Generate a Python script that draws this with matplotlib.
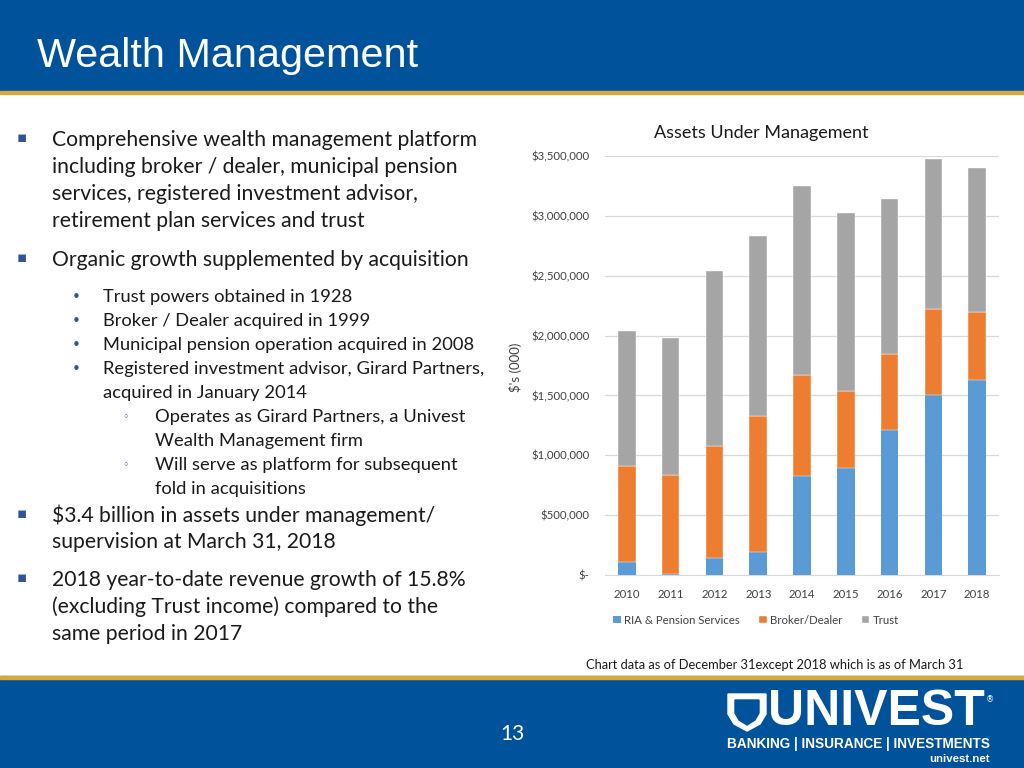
import matplotlib
matplotlib.use("Agg")
import matplotlib.pyplot as plt
from matplotlib.patches import Rectangle, Polygon
from matplotlib.ticker import FuncFormatter
import numpy as np

# chart data, $'s (000)
years = ["2010", "2011", "2012", "2013", "2014", "2015", "2016", "2017", "2018"]
ria_pension = [111000, 8000, 139000, 192000, 825000, 894000, 1211000, 1500000, 1625000]
broker_dealer = [803000, 831000, 939000, 1139000, 844000, 642000, 636000, 722000, 575000]
trust = [1126000, 1144000, 1458000, 1497000, 1584000, 1492000, 1292000, 1250000, 1202000]
series_names = ["RIA & Pension Services", "Broker/Dealer", "Trust"]
y_ticks = [0, 500000, 1000000, 1500000, 2000000, 2500000, 3000000, 3500000]

BLUE = "#00539B"
GOLD = "#D9A83A"
W, H = 1024, 768


def fx(px):
    return px / W


def fy(py):
    return 1 - py / H


fig = plt.figure(figsize=(W / 100, H / 100), dpi=100)
fig.patch.set_facecolor("white")

# header / footer bands
fig.patches.append(Rectangle((0, fy(91)), 1, 91 / H, transform=fig.transFigure,
                             color=BLUE, zorder=0))
fig.patches.append(Rectangle((0, fy(94)), 1, 3 / H, transform=fig.transFigure,
                             color=GOLD, zorder=0))
fig.patches.append(Rectangle((0, 0), 1, 92 / H, transform=fig.transFigure,
                             color=BLUE, zorder=0))
fig.patches.append(Rectangle((0, fy(679)), 1, 2 / H, transform=fig.transFigure,
                             color="#2E4A5E", zorder=0))
fig.patches.append(Rectangle((0, fy(679)), 1, 3 / H, transform=fig.transFigure,
                             color=GOLD, zorder=0))

fig.text(fx(37), fy(56), "Wealth Management", color="white", fontsize=29.8,
         family="Liberation Sans", va="center", ha="left")

# left bullet text
TXT = "#1A1A1A"
main_fs = 15.2
sub_fs = 13.2
lines = [
    (140, 0, "Comprehensive wealth management platform"),
    (167, None, "including broker / dealer, municipal pension"),
    (194, None, "services, registered investment advisor,"),
    (221, None, "retirement plan services and trust"),
    (260, 0, "Organic growth supplemented by acquisition"),
    (515, 0, "$3.4 billion in assets under management/"),
    (542, None, "supervision at March 31, 2018"),
    (580, 0, "2018 year-to-date revenue growth of 15.8%"),
    (607, None, "(excluding Trust income) compared to the"),
    (634, None, "same period in 2017"),
]
for y, b, s in lines:
    if b is not None:
        fig.text(fx(22), fy(y - 2), "▪", color="#2F5597", fontsize=11,
                 family="DejaVu Sans", va="center", ha="center")
    fig.text(fx(52), fy(y), s, color=TXT, fontsize=main_fs, family="Lato",
             va="center", ha="left")

sub_lines = [
    (297, "•", 103, "Trust powers obtained in 1928"),
    (321, "•", 103, "Broker / Dealer acquired in 1999"),
    (345, "•", 103, "Municipal pension operation acquired in 2008"),
    (369, "•", 103, "Registered investment advisor, Girard Partners,"),
    (393, None, 103, "acquired in January 2014"),
    (417, "◦", 155, "Operates as Girard Partners, a Univest"),
    (441, None, 155, "Wealth Management firm"),
    (465, "◦", 155, "Will serve as platform for subsequent"),
    (489, None, 155, "fold in acquisitions"),
]
for y, b, x, s in sub_lines:
    if b == "•":
        fig.text(fx(76), fy(y), b, color="#2F5597", fontsize=11,
                 family="DejaVu Sans", va="center", ha="center")
    elif b == "◦":
        fig.text(fx(126), fy(y), b, color="#2F5597", fontsize=8,
                 family="DejaVu Sans", va="center", ha="center")
    fig.text(fx(x), fy(y), s, color=TXT, fontsize=sub_fs, family="Lato",
             va="center", ha="left")

# chart
ax = fig.add_axes([fx(605), fy(575), (999 - 605) / W, (575 - 156) / H])
x = np.arange(len(years))
bw = 0.4
ria = np.array(ria_pension)
bd = np.array(broker_dealer)
tr = np.array(trust)
ax.bar(x, ria, bw, color="#5B9BD5", label=series_names[0], zorder=3)
ax.bar(x, bd, bw, bottom=ria, color="#ED7D31", label=series_names[1], zorder=3,
       edgecolor="white", linewidth=0.3)
ax.bar(x, tr, bw, bottom=ria + bd, color="#A5A5A5", label=series_names[2], zorder=3,
       edgecolor="white", linewidth=0.3)

ax.set_xlim(-0.5, len(years) - 0.5)
ax.set_ylim(0, 3500000)
ax.set_yticks(y_ticks)
ax.yaxis.set_major_formatter(FuncFormatter(lambda v, p: "$-" if v == 0 else f"${v:,.0f}"))
ax.set_xticks(x)
ax.set_xticklabels(years)
ax.grid(axis="y", color="#D9D9D9", linewidth=0.9, zorder=0)
for side in ["top", "right", "left"]:
    ax.spines[side].set_visible(False)
ax.spines["bottom"].set_color("#D9D9D9")
ax.tick_params(length=0, labelsize=8.2, colors="#404040")
ax.tick_params(axis="y", pad=11)
ax.tick_params(axis="x", pad=10)
for lab in ax.get_xticklabels() + ax.get_yticklabels():
    lab.set_family("Lato")
ax.set_ylabel("$'s (000)", fontsize=9.5, family="Lato", color="#404040")
ax_w = (999 - 605) / W
ax.yaxis.set_label_coords((fx(522) - fx(605)) / ax_w, 0.495)
fig.text(fx(761), fy(133), "Assets Under Management", fontsize=13, family="Lato",
         color="#1A1A1A", ha="center", va="center")

leg = fig.legend(loc="center", bbox_to_anchor=(fx(756), fy(620)), ncol=3,
                 frameon=False, prop={"family": "Lato", "size": 8.2},
                 handlelength=0.65, handleheight=0.65, columnspacing=1.7,
                 handletextpad=0.3)
for t in leg.get_texts():
    t.set_color("#404040")

fig.text(fx(775), fy(665), "Chart data as of December 31except 2018 which is as of March 31",
         fontsize=9.3, family="Lato", color="#1A1A1A", ha="center", va="center")

# footer
fig.text(fx(512), fy(734), "13", color="white", fontsize=15, family="Lato",
         ha="center", va="center")

shield = Polygon([(fx(728), fy(694)), (fx(766), fy(694)), (fx(766), fy(714)),
                  (fx(760), fy(724)), (fx(747), fy(731)), (fx(734), fy(724)),
                  (fx(728), fy(714))],
                 closed=True, transform=fig.transFigure, color="white", zorder=2)
fig.patches.append(shield)
fig.patches.append(Polygon([(fx(735), fy(700)), (fx(759), fy(700)), (fx(759), fy(713)),
                            (fx(755), fy(720)), (fx(747), fy(725)), (fx(739), fy(720)),
                            (fx(735), fy(713))],
                           closed=True, transform=fig.transFigure, color=BLUE, zorder=3))
fig.text(fx(768), fy(712), "UNIVEST", color="white", fontsize=36, weight="bold",
         family="Liberation Sans", ha="left", va="center")
fig.text(fx(990), fy(700), "®", color="white", fontsize=6, family="DejaVu Sans",
         ha="center", va="center")
fig.text(fx(727), fy(744), "BANKING | INSURANCE | INVESTMENTS", color="white",
         fontsize=9.85, weight="bold", family="Liberation Sans", ha="left", va="center")
fig.text(fx(990), fy(759), "univest.net", color="white", fontsize=8.2, weight="bold",
         family="Liberation Sans", ha="right", va="center")

fig.savefig("out.png", dpi=100)
